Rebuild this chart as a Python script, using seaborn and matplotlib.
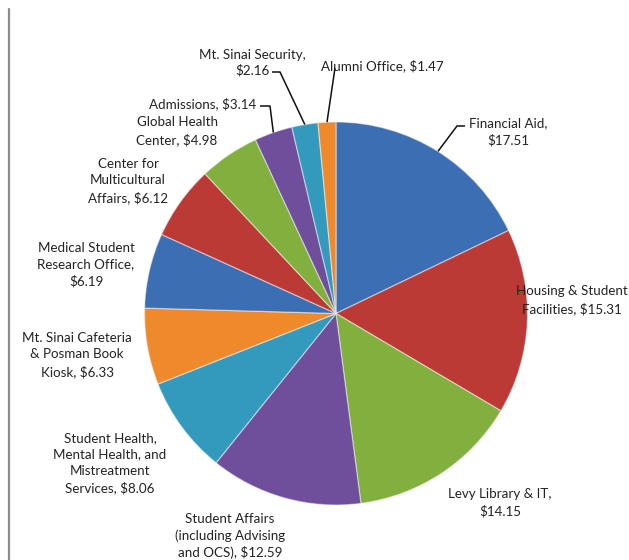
import matplotlib
matplotlib.use("Agg")
import matplotlib.pyplot as plt
from matplotlib.lines import Line2D
import seaborn as sns
import numpy as np

# slices, clockwise from 12 o'clock
categories = [
    "Financial Aid",
    "Housing & Student Facilities",
    "Levy Library & IT",
    "Student Affairs (including Advising and OCS)",
    "Student Health, Mental Health, and Mistreatment Services",
    "Mt. Sinai Cafeteria & Posman Book Kiosk",
    "Medical Student Research Office",
    "Center for Multicultural Affairs",
    "Global Health Center",
    "Admissions",
    "Mt. Sinai Security",
    "Alumni Office",
]
amounts = [17.51, 15.31, 14.15, 12.59, 8.06, 6.33, 6.19, 6.12, 4.98, 3.14, 2.16, 1.47]
label_texts = [
    "Financial Aid,\n$17.51",
    "Housing & Student\nFacilities, $15.31",
    "Levy Library & IT,\n$14.15",
    "Student Affairs\n(including Advising\nand OCS), $12.59",
    "Student Health,\nMental Health, and\nMistreatment\nServices, $8.06",
    "Mt. Sinai Cafeteria\n& Posman Book\nKiosk, $6.33",
    "Medical Student\nResearch Office,\n$6.19",
    "Center for\nMulticultural\nAffairs, $6.12",
    "Global Health\nCenter, $4.98",
    "Admissions, $3.14",
    "Mt. Sinai Security,\n$2.16",
    "Alumni Office, $1.47",
]
slice_colors = ["#3c6eb4", "#bb3a36", "#82b03e", "#6f4e9c",
                "#3399bd", "#ee8a2c"] * 2

sns.set_theme(style="white")
plt.rcParams["font.family"] = ["Lato", "DejaVu Sans"]

W, H = 629, 560
CX, CY, R = 336, 313.5, 191.5  # pie centre and radius in pixels


def px(x, y):
    # pixel position -> data units (pie radius = 1)
    return (x - CX) / R, (CY - y) / R


fig = plt.figure(figsize=(W / 100, H / 100), dpi=100)
ax = fig.add_axes([0, 0, 1, 1])

wedges, _ = ax.pie(
    amounts,
    colors=sns.color_palette(slice_colors),
    startangle=90,
    counterclock=False,
    radius=1,
    wedgeprops=dict(edgecolor=(1, 1, 1, 0.45), linewidth=0.9),
)

# label anchors in pixels (x, y, horizontal alignment)
label_pos = [
    (508, 132, "center"), (572, 300, "center"), (500, 503, "center"),
    (230, 536, "center"), (110, 463, "center"), (77, 355, "center"),
    (86, 265, "center"), (128, 181, "center"), (177, 131, "center"),
    (256, 104, "right"), (252, 63, "center"), (321, 66, "left"),
]
for txt, (x, y, ha) in zip(label_texts, label_pos):
    spacing = 1.25 if txt.startswith("Mt. Sinai Sec") else 1.43
    ax.text(*px(x, y), txt, ha=ha, va="center", fontsize=9.6,
            color="#222222", linespacing=spacing)

# leader lines: slice index -> (elbow, tick end) in pixels
leaders = {
    0: [(457, 126), (465, 126)],
    9: [(270, 106), (260, 106)],
    10: [(280, 72), (272, 72)],
    11: [(335, 68)],
}
for i, pts in leaders.items():
    w = wedges[i]
    t = np.deg2rad((w.theta1 + w.theta2) / 2)
    xs = [np.cos(t)] + [px(*p)[0] for p in pts]
    ys = [np.sin(t)] + [px(*p)[1] for p in pts]
    ax.plot(xs, ys, color="#111111", lw=1.1, solid_capstyle="butt")

ax.set_xlim(-CX / R, (W - CX) / R)
ax.set_ylim(-(H - CY) / R, CY / R)
ax.set_aspect("equal")
ax.axis("off")

# grey frame edge on the left
fig.add_artist(Line2D([9 / W, 9 / W], [0, 1 - 9 / H], color="#8c8c8c", lw=1.6))

fig.savefig("out.png", dpi=100, facecolor="white")
